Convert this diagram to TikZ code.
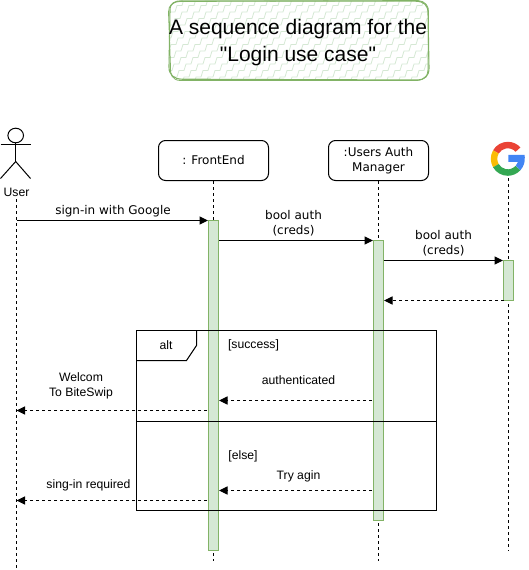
\documentclass[tikz,border=0pt]{standalone}
\usepackage{fontspec}
\setmainfont{Liberation Sans}
\newfontfamily\plainsans{Liberation Sans}
\newfontfamily\dv{DejaVu Sans}
\usetikzlibrary{arrows.meta}
\definecolor{barfill}{HTML}{D5E8D4}
\definecolor{barline}{HTML}{82B366}
\definecolor{ggred}{HTML}{EA4335}
\definecolor{ggyellow}{HTML}{FBBC05}
\definecolor{gggreen}{HTML}{34A853}
\definecolor{ggblue}{HTML}{4285F4}
\tikzset{
  lbl/.style={inner sep=0pt,align=center,font=\fontsize{12.2}{15}\selectfont},
  dlbl/.style={inner sep=0pt,align=center,font=\dv\fontsize{12}{15}\selectfont},
  obj/.style={draw=black,line width=1pt,rounded corners=7pt,fill=white,minimum height=40pt,inner sep=0pt,align=center,font=\dv\fontsize{12}{15}\selectfont},
  life/.style={draw=black,line width=1pt,dash pattern=on 3pt off 3pt},
  bar/.style={draw=barline,fill=barfill,line width=1pt,inner sep=0pt,minimum width=10.5pt},
  msg/.style={draw=black,line width=1pt,-{Triangle[length=8.5pt,width=8pt]}},
  ret/.style={msg,dash pattern=on 3pt off 3pt},
  frameline/.style={draw=black,line width=1pt},
  actorline/.style={draw=black,line width=1pt}
}
\begin{document}
\begin{tikzpicture}[x=1pt,y=-1pt]
\useasboundingbox (0,0) rectangle (528,570);
% title
\begin{scope}
\clip[rounded corners=10pt] (168.5,1) rectangle (428,80);
\foreach \k in {-10,...,26}{
  \draw[barfill,line width=.8pt] (110+\k*12,90)
    \foreach \n in {1,...,14}{ -- ++(5,0) -- ++(2,-6.5) };
}
\end{scope}
\draw[barline,line width=1.1pt] (170,10) .. controls (170,3) and (175,.8) .. (182,.8) -- (416,1.2) .. controls (424,1.5) and (428,5) .. (428,13) -- (429,68) .. controls (429,76) and (425,80) .. (416,80) -- (182,79.2) .. controls (174,79) and (169,75) .. (169,67) -- cycle;
\draw[barline,line width=.8pt] (168.5,12) .. controls (168.5,5) and (173,1.5) .. (181,1.5) -- (418,.5) .. controls (425,1) and (429,6) .. (428.5,12) -- (428,70) .. controls (428,77) and (423,81) .. (414,80.5) -- (180,80.5) .. controls (172,80) and (170,74) .. (170.5,67) -- cycle;
\node[inner sep=0pt,align=center,font=\plainsans\fontsize{21}{26.5}\selectfont] (title) at (298,42.5) {A sequence diagram for the\\"Login use case"};

% lifeline anchors
\coordinate (uTop) at (16.5,199);
\coordinate (uEnd) at (16.5,570);
\coordinate (fEnd) at (213.5,561);
\coordinate (aEnd) at (378.5,561);
\coordinate (gTop) at (508.5,178);
\coordinate (gEnd) at (508.5,551);

% objects
\node[obj,minimum width=110pt] (front) at (213.5,160.5) {: FrontEnd};
\node[obj,minimum width=100pt] (auth) at (378.5,160.5) {:Users Auth\\Manager};

\draw[life] (uTop) -- (uEnd);
\draw[life] (front.south) -- (fEnd);
\draw[life] (auth.south) -- (aEnd);
\draw[life] (gTop) -- (gEnd);

% actor
\draw[actorline] (15.7,135.5) ellipse (7.8pt and 7.3pt);
\draw[actorline] (15.7,143) -- (15.7,161.5);
\draw[actorline] (0.5,144.5) -- (30.5,144.5);
\draw[actorline] (0.5,178.5) -- (15.7,161.5) -- (30.5,178.5);
\node[lbl] (user) at (16.5,192.5) {User};

% google logo
\begin{scope}[shift={(507.8,158.8)},y=1pt]
\fill[ggred] (150:17) arc[start angle=150,end angle=42,radius=17pt] -- (42:10.5) arc[start angle=42,end angle=150,radius=10.5pt] -- cycle;
\fill[ggyellow] (210:17) arc[start angle=210,end angle=150,radius=17pt] -- (150:10.5) arc[start angle=150,end angle=210,radius=10.5pt] -- cycle;
\fill[gggreen] (210:17) arc[start angle=210,end angle=318,radius=17pt] -- (318:10.5) arc[start angle=318,end angle=210,radius=10.5pt] -- cycle;
\fill[ggblue] (318:17) arc[start angle=318,end angle=364,radius=17pt] -- ++(0,0) -- (16.9,4) -- (0.5,4) -- (0.5,-3) -- (10.2,-3) arc[start angle=-17,end angle=-42,radius=10.5pt] -- cycle;
\end{scope}

% activation bars
\node[bar,minimum height=330pt] (fBar) at (213.5,385.5) {};
\node[bar,minimum height=280pt] (aBar) at (378.5,380.5) {};
\node[bar,minimum height=40pt] (gBar) at (508.5,280.5) {};

% alt frame
\draw[frameline] (136.5,330.5) rectangle (436.5,510.5);
\coordinate (divL) at (136.5,421);
\coordinate (divR) at (436.5,421);
\draw[frameline] (divL) -- (divR);
\draw[frameline] (136.5,360.5) -- (186.5,360.5) -- (196.5,345.5) -- (196.5,330.5);
\node[lbl] (alt) at (166,345) {alt};
\node[lbl] (succ) at (253.5,345.5) {[success]};
\node[lbl] (els) at (243,456) {[else]};

% messages
\coordinate (u1) at (16.5,220.5);
\coordinate (f1) at (208,220.5);
\coordinate (f2) at (219,240.5);
\coordinate (a2) at (373,240.5);
\coordinate (a3) at (383.5,260.5);
\coordinate (g3) at (503,260.5);
\coordinate (g4) at (504,300.5);
\coordinate (a4) at (384,300.5);
\coordinate (a5) at (372,400.5);
\coordinate (f5) at (219,400.5);
\coordinate (f6) at (207,410.5);
\coordinate (u6) at (16.5,410.5);
\coordinate (a7) at (372,490.5);
\coordinate (f7) at (219,490.5);
\coordinate (f8) at (207,500.5);
\coordinate (u8) at (16.5,500.5);
\draw[msg] (u1) -- (f1);
\draw[msg] (f2) -- (a2);
\draw[msg] (a3) -- (g3);
\draw[ret] (g4) -- (a4);
\draw[ret] (a5) -- (f5);
\draw[ret] (f6) -- (u6);
\draw[ret] (a7) -- (f7);
\draw[ret] (f8) -- (u8);

\node[dlbl] (m1) at (113,211.5) {sign-in with Google};
\node[dlbl] (m2) at (293.5,223) {bool auth\\(creds)};
\node[dlbl] (m3) at (443.5,243) {bool auth\\(creds)};
\node[lbl] (m5) at (298.5,380.5) {authenticated};
\node[lbl] (m6) at (81,385.5) {Welcom\\To BiteSwip};
\node[lbl] (m7) at (298.5,476) {Try agin};
\node[lbl] (m8) at (88.5,485.5) {sing-in required};
\end{tikzpicture}
\end{document}
